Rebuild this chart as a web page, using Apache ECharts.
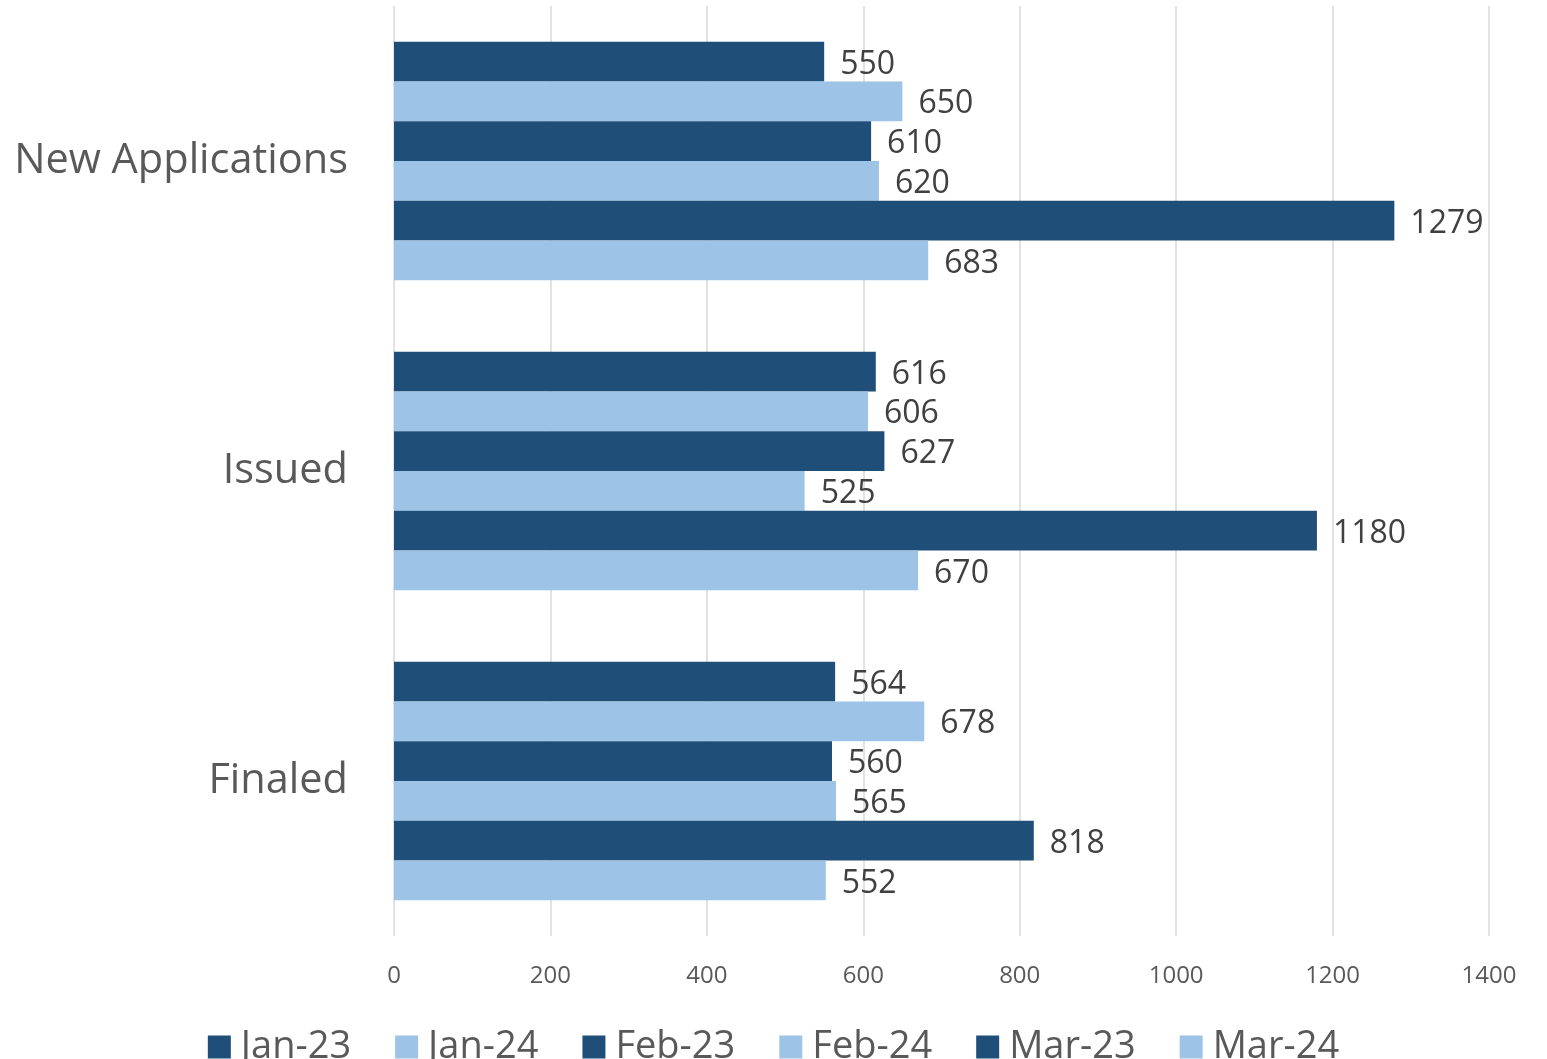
<!DOCTYPE html>
<html><head><meta charset="utf-8">
<script src="https://cdn.jsdelivr.net/npm/echarts@6/dist/echarts.min.js"></script>
<style>html,body{margin:0;padding:0;background:#fff}#c{width:1547px;height:1059px}</style>
</head><body><div id="c"></div>
<script>
const categories = ['New Applications', 'Issued', 'Finaled'];
const seriesNames = ['Jan-23', 'Jan-24', 'Feb-23', 'Feb-24', 'Mar-23', 'Mar-24'];
const jan23 = [550, 616, 564];
const jan24 = [650, 606, 678];
const feb23 = [610, 627, 560];
const feb24 = [620, 525, 565];
const mar23 = [1279, 1180, 818];
const mar24 = [683, 670, 552];
const xTicks = { min: 0, max: 1400, interval: 200 };

const dataSets = [jan23, jan24, feb23, feb24, mar23, mar24];
const DARK = '#1F4E79', LIGHT = '#9DC3E6';
const FONT = '"Open Sans", "Noto Sans", sans-serif';

const chart = echarts.init(document.getElementById('c'));
chart.setOption({
  animation: false,
  textStyle: { fontFamily: FONT },
  grid: { left: 394, right: 58, top: 6, height: 930 },
  legend: {
    bottom: -12, left: 'center',
    itemWidth: 23, itemHeight: 23, itemGap: 44,
    textStyle: { fontSize: 38, color: '#595959', fontFamily: FONT, padding: [0, 0, 0, 5] },
    data: seriesNames.map(n => ({ name: n, icon: 'rect' }))
  },
  xAxis: {
    type: 'value', min: xTicks.min, max: xTicks.max, interval: xTicks.interval,
    axisLine: { show: false }, axisTick: { show: false },
    axisLabel: { color: '#595959', fontSize: 24, margin: 28, formatter: v => String(v) },
    splitLine: { lineStyle: { color: '#D9D9D9', width: 1.5 } }
  },
  yAxis: {
    type: 'category', data: categories, inverse: true,
    axisLine: { show: false }, axisTick: { show: false },
    axisLabel: { color: '#595959', fontSize: 41.5, margin: 46, padding: [6, 0, 0, 0] }
  },
  series: seriesNames.map((n, i) => ({
    name: n, type: 'bar', data: dataSets[i],
    barGap: '0%', barCategoryGap: '23%',
    itemStyle: { color: i % 2 === 0 ? DARK : LIGHT },
    label: { show: true, position: 'right', distance: 16, color: '#404040', fontSize: 32, offset: [0, 3] }
  }))
});
</script></body></html>
